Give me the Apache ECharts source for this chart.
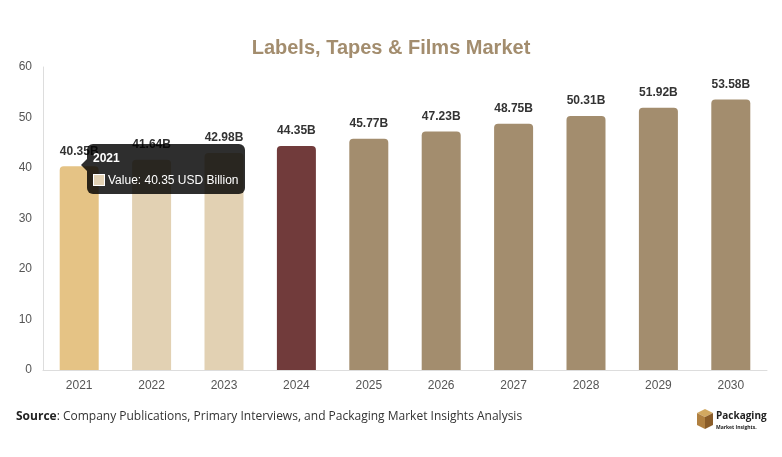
<!DOCTYPE html>
<html>
<head>
<meta charset="utf-8">
<script src="https://cdn.jsdelivr.net/npm/echarts@6/dist/echarts.min.js"></script>
<style>
  html, body { margin: 0; padding: 0; background: #fff; }
  #chart { width: 782px; height: 457px; }
</style>
</head>
<body>
<div id="chart"></div>
<script>
const years = ["2021", "2022", "2023", "2024", "2025", "2026", "2027", "2028", "2029", "2030"];
const values = [40.35, 41.64, 42.98, 44.35, 45.77, 47.23, 48.75, 50.31, 51.92, 53.58];
const barColors = ["#e5c385", "#e2d1b3", "#e2d1b3", "#713b3b", "#a38d6e", "#a38d6e", "#a38d6e", "#a38d6e", "#a38d6e", "#a38d6e"];
const yTicks = [0, 10, 20, 30, 40, 50, 60];

const chart = echarts.init(document.getElementById("chart"));

const option = {
  animation: false,
  title: {
    text: "Labels, Tapes & Films Market",
    left: "center",
    top: 33,
    textStyle: { color: "#a38d6e", fontSize: 20, fontWeight: "bold", fontFamily: "Liberation Sans, Arial" },
  },
  tooltip: {
    trigger: "item",
    triggerOn: "none",
    alwaysShowContent: true,
    transitionDuration: 0,
    backgroundColor: "rgba(0,0,0,0.82)",
    borderWidth: 0,
    padding: [6, 6],
    extraCssText: "border-radius:6px;box-shadow:none;overflow:visible;",
    position: () => [87, 144],
    formatter: (p) =>
      '<div style="position:absolute;left:-6px;top:15px;width:0;height:0;border-top:6px solid transparent;border-bottom:6px solid transparent;border-right:6px solid rgba(0,0,0,0.82);"></div>' +
      '<div style="font:bold 12px Liberation Sans, Arial;color:#fff;line-height:16px;margin-bottom:6px;">' + p.name + "</div>" +
      '<div style="font:12px Liberation Sans, Arial;color:#fff;line-height:16px;">' +
      '<span style="display:inline-block;width:10px;height:10px;background:#e2d1b3;border:1px solid #fff;vertical-align:-2px;margin-right:3px;"></span>' +
      "Value: " + p.value + " USD Billion</div>",
  },
  grid: { left: 43, right: 15, top: 67, bottom: 87 },
  xAxis: {
    type: "category",
    data: years,
    axisLine: { lineStyle: { color: "#dddddd" } },
    axisTick: { show: false },
    axisLabel: { color: "#555", fontSize: 12, margin: 10, fontFamily: "Liberation Sans, Arial" },
  },
  yAxis: {
    type: "value",
    min: 0,
    max: 60,
    interval: 10,
    axisLine: { show: true, lineStyle: { color: "#dddddd" } },
    axisTick: { show: false },
    splitLine: { show: false },
    axisLabel: { color: "#555", fontSize: 12, margin: 11, fontFamily: "Liberation Sans, Arial", formatter: (v) => (yTicks.includes(v) ? String(v) : "") },
  },
  series: [
    {
      type: "bar",
      barWidth: 39,
      data: values.map((v, i) => ({ value: v, itemStyle: { color: barColors[i], borderRadius: [4, 4, 0, 0] } })),
      label: {
        show: true,
        position: "top",
        distance: 9,
        color: "#333",
        fontSize: 12,
        fontWeight: "bold",
        fontFamily: "Liberation Sans, Arial",
        formatter: (p) => p.value.toFixed(2) + "B",
      },
    },
  ],
  graphic: [
    {
      type: "text",
      left: 16,
      top: 411,
      style: {
        rich: {
          b: { fontWeight: "bold", fontSize: 12, fill: "#222", fontFamily: "Open Sans" },
          n: { fontSize: 12, fill: "#333", fontFamily: "Open Sans" },
        },
        text: "{b|Source}{n|: Company Publications, Primary Interviews, and Packaging Market Insights Analysis}",
      },
    },
    {
      type: "group",
      left: 697,
      top: 409,
      children: [
        { type: "polygon", shape: { points: [[0, 4], [8, 0], [16, 4], [8, 8]] }, style: { fill: "#d2a860" } },
        { type: "polygon", shape: { points: [[0, 4], [8, 8], [8, 20], [0, 16]] }, style: { fill: "#b08040" } },
        { type: "polygon", shape: { points: [[8, 8], [16, 4], [16, 16], [8, 20]] }, style: { fill: "#8a5c28" } },
        { type: "text", x: 19, y: 2, style: { text: "Packaging", font: "bold 10px Open Sans", fill: "#222" } },
        { type: "text", x: 19, y: 16, style: { text: "Market Insights.", font: "bold 5px Open Sans", fill: "#222" } },
      ],
    },
  ],
};

chart.setOption(option);
chart.dispatchAction({ type: "showTip", seriesIndex: 0, dataIndex: 0 });
</script>
</body>
</html>
